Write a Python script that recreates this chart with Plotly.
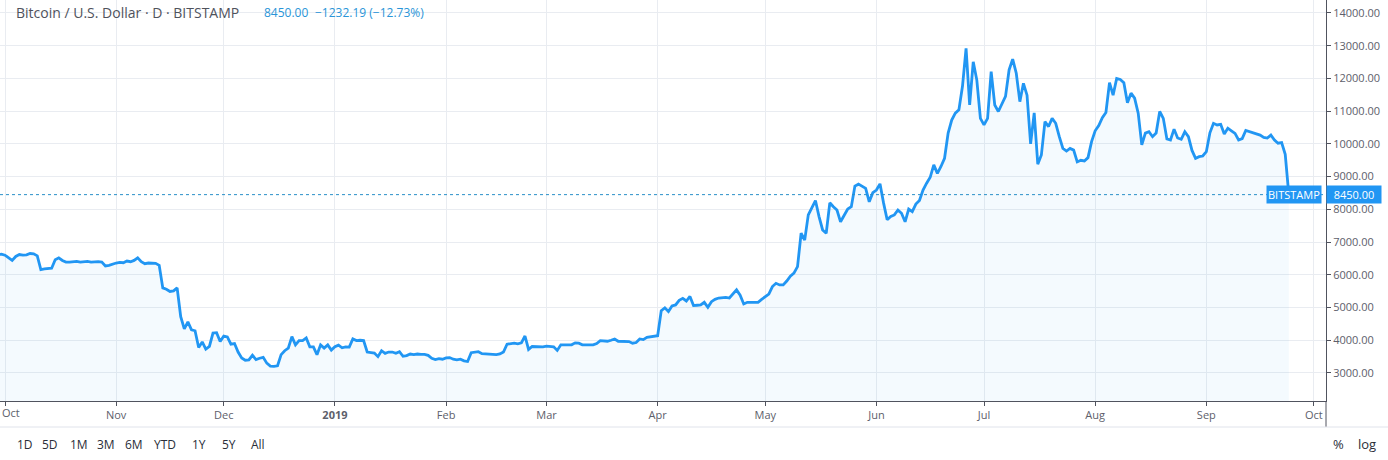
import plotly.graph_objects as go
import pandas as pd

# ---------------- data (daily close, BTC/USD Bitstamp) ----------------
sep2018 = [6620, 6630]  # from 2018-09-29
oct2018 = [6600, 6520, 6440, 6560, 6620, 6600, 6610, 6650, 6640, 6580,
           6160, 6180, 6190, 6200, 6460, 6520, 6440, 6390, 6390, 6400,
           6410, 6390, 6400, 6410, 6390, 6400, 6400, 6390, 6270, 6290, 6330]
nov2018 = [6360, 6380, 6370, 6420, 6400, 6440, 6520, 6400, 6340, 6360,
           6360, 6350, 6290, 5600, 5560, 5490, 5510, 5600, 4720, 4350,
           4560, 4320, 4290, 3780, 3950, 3730, 3810, 4220, 4230, 3960]
dec2018 = [4130, 4100, 3880, 3900, 3640, 3460, 3390, 3400, 3540, 3410,
           3450, 3480, 3300, 3210, 3200, 3220, 3560, 3680, 3760, 4110,
           3860, 3990, 3990, 4070, 3800, 3800, 3560, 3860, 3760, 3860, 3700]
jan2019 = [3800, 3850, 3770, 3800, 3790, 4040, 3990, 4000, 3990, 3640,
           3630, 3610, 3500, 3680, 3600, 3640, 3640, 3600, 3650, 3510,
           3530, 3580, 3560, 3580, 3570, 3570, 3540, 3450, 3410, 3440, 3420]
feb2019 = [3460, 3470, 3420, 3400, 3420, 3370, 3350, 3620, 3630, 3650,
           3590, 3580, 3560, 3550, 3560, 3580, 3640, 3880, 3890, 3910,
           3890, 3920, 4130, 3720, 3810, 3800, 3810, 3800]
mar2019 = [3820, 3820, 3800, 3690, 3860, 3860, 3870, 3860, 3920, 3910,
           3860, 3870, 3860, 3860, 3900, 3990, 3970, 3970, 4000, 4040,
           3970, 3970, 3980, 3960, 3910, 3930, 4040, 4020, 4090, 4100, 4110]
apr2019 = [4140, 4905, 4990, 4880, 5050, 5080, 5220, 5280, 5200, 5340,
           5060, 5070, 5080, 5160, 5010, 5180, 5250, 5290, 5300, 5310,
           5290, 5410, 5540, 5380, 5110, 5160, 5160, 5160, 5160, 5250]
may2019 = [5340, 5410, 5640, 5740, 5690, 5690, 5810, 5960, 6050, 6250,
           7270, 7060, 7830, 8030, 8270, 7780, 7370, 7270, 8200, 8080,
           7980, 7620, 7830, 8010, 8080, 8710, 8770, 8710, 8640, 8230, 8510]
jun2019 = [8590, 8780, 8190, 7680, 7780, 7830, 7980, 7880, 7620, 8010,
           7930, 8160, 8270, 8590, 8800, 8980, 9360, 9100, 9310, 9560,
           10330, 10730, 10940, 11040, 11760, 12920, 11190, 12510, 11950, 10780]
jul2019 = [10580, 10780, 12210, 11190, 10990, 11240, 11450, 12260, 12590, 12160,
           11290, 11850, 11490, 10000, 10950, 9380, 9660, 10680, 10530, 10780,
           10630, 10220, 9860, 9780, 9860, 9810, 9450, 9500, 9480, 9580, 10070]
aug2019 = [10400, 10560, 10800, 10960, 11870, 11490, 12000, 11970, 11870, 11260,
           11550, 11400, 10940, 9970, 10330, 10370, 10220, 10330, 10990, 10780,
           10150, 10120, 10450, 10180, 10140, 10370, 10220, 9800, 9560, 9610, 9630]
sep2019 = [9760, 10340, 10630, 10580, 10600, 10300, 10480, 10400, 10320, 10120,
           10160, 10410, 10370, 10340, 10300, 10270, 10200, 10180, 10270, 10120,
           10020, 10040, 9682.19, 8450]

month_starts = ["2018-09-29", "2018-10-01", "2018-11-01", "2018-12-01", "2019-01-01",
                "2019-02-01", "2019-03-01", "2019-04-01", "2019-05-01", "2019-06-01",
                "2019-07-01", "2019-08-01", "2019-09-01"]
month_series = [sep2018, oct2018, nov2018, dec2018, jan2019, feb2019, mar2019,
                apr2019, may2019, jun2019, jul2019, aug2019, sep2019]

x_tick_vals = ["2018-10-01", "2018-11-01", "2018-12-01", "2019-01-01", "2019-02-01",
               "2019-03-01", "2019-04-01", "2019-05-01", "2019-06-01", "2019-07-01",
               "2019-08-01", "2019-09-01", "2019-10-01"]
x_tick_text = ["Oct", "Nov", "Dec", "<b>2019</b>", "Feb", "Mar", "Apr", "May",
               "Jun", "Jul", "Aug", "Sep", "Oct"]
y_tick_vals = [3000, 4000, 5000, 6000, 7000, 8000, 9000, 10000, 11000, 12000, 13000, 14000]
y_tick_text = [f"{v:.2f}" for v in y_tick_vals]

last_price = 8450.00
change = -1232.19
change_pct = -12.73
range_buttons = ["1D", "5D", "1M", "3M", "6M", "YTD", "1Y", "5Y", "All"]

dates, values = [], []
for start, vals in zip(month_starts, month_series):
    dates += list(pd.date_range(start, periods=len(vals), freq="D"))
    values += vals

# ---------------- figure ----------------
W, H = 1388, 460
PL, PR, PT, PB = 0, 62, 0, 59
pw, ph = W - PL - PR, H - PT - PB

def px_x(p):
    return (p - PL) / pw

def px_y(p):
    return (H - PB - p) / ph

LINE = "#2196f3"
GRID = "#e9ecf1"
AXIS = "#50535e"
TXT = "#5d606b"
FONT = "Open Sans"

fig = go.Figure()
fig.add_trace(go.Scatter(
    x=dates, y=values, mode="lines",
    line=dict(color=LINE, width=2.8),
    fill="tozeroy", fillcolor="rgba(33,150,243,0.05)",
    hoverinfo="skip", showlegend=False,
))

fig.update_layout(
    width=W, height=H,
    margin=dict(l=PL, r=PR, t=PT, b=PB, pad=0),
    paper_bgcolor="white", plot_bgcolor="white",
    font=dict(family=FONT, size=11, color=TXT),
    showlegend=False,
    xaxis=dict(
        type="date",
        range=["2018-09-29 14:32", "2019-10-04 08:53"],
        tickmode="array", tickvals=x_tick_vals, ticktext=x_tick_text,
        showgrid=True, gridcolor=GRID, gridwidth=1,
        showline=True, linecolor=AXIS, linewidth=1,
        ticks="outside", ticklen=4, tickcolor=AXIS,
        tickfont=dict(family=FONT, size=11, color=TXT),
        zeroline=False, fixedrange=True,
    ),
    yaxis=dict(
        side="right",
        range=[2144, 14397],
        tickmode="array", tickvals=y_tick_vals, ticktext=y_tick_text,
        showgrid=True, gridcolor=GRID, gridwidth=1,
        showline=True, linecolor=AXIS, linewidth=1,
        ticks="outside", ticklen=4, tickcolor=AXIS,
        tickfont=dict(family=FONT, size=11, color=TXT),
        zeroline=False, fixedrange=True,
    ),
)

shapes = [
    # last-price dotted line
    dict(type="line", xref="paper", yref="y", x0=0, x1=1, y0=last_price, y1=last_price,
         line=dict(color="#2a8fc9", width=1, dash="dot")),
    # right axis border extended down through time axis
    dict(type="line", xref="paper", yref="paper", x0=1, x1=1, y0=0, y1=px_y(427),
         line=dict(color=AXIS, width=1)),
    # separator above the range buttons
    dict(type="line", xref="paper", yref="paper", x0=0, x1=px_x(W), y0=px_y(427), y1=px_y(427),
         line=dict(color="#e0e3eb", width=1)),
]
fig.update_layout(shapes=shapes)

ann = []
ann.append(dict(xref="paper", yref="paper", x=px_x(14), y=px_y(13), xanchor="left", yanchor="middle",
                text="Bitcoin / U.S. Dollar · D · BITSTAMP", showarrow=False,
                font=dict(family=FONT, size=14, color="#4f525c")))
ann.append(dict(xref="paper", yref="paper", x=px_x(262), y=px_y(13), xanchor="left", yanchor="middle",
                text=f"{last_price:.2f}", showarrow=False,
                font=dict(family=FONT, size=12, color="#2a95d8")))
ann.append(dict(xref="paper", yref="paper", x=px_x(313), y=px_y(13), xanchor="left", yanchor="middle",
                text=f"\u2212{abs(change):.2f} (\u2212{abs(change_pct):.2f}%)", showarrow=False,
                font=dict(family=FONT, size=12, color="#2a95d8")))
# first "Oct" tick label at the very left edge
ann.append(dict(xref="paper", yref="paper", x=0, y=px_y(413), xanchor="left", yanchor="middle",
                text=x_tick_text[0], showarrow=False,
                font=dict(family=FONT, size=11, color=TXT)))
# price labels
ann.append(dict(xref="paper", yref="y", x=px_x(1322), y=last_price, xanchor="right", yanchor="middle",
                text="BITSTAMP", showarrow=False, bgcolor=LINE, borderpad=1,
                font=dict(family=FONT, size=11, color="white")))
ann.append(dict(xref="paper", yref="y", x=1.0, y=last_price, xanchor="left", yanchor="middle",
                text=f"{last_price:.2f}", showarrow=False, bgcolor=LINE, borderpad=1,
                width=52, align="center",
                font=dict(family=FONT, size=11, color="white")))
# range buttons
btn_x = [25, 50, 79, 106, 134, 165, 199, 229, 258]
for lbl, bx in zip(range_buttons, btn_x):
    ann.append(dict(xref="paper", yref="paper", x=px_x(bx), y=px_y(444), xanchor="center", yanchor="middle",
                    text=lbl, showarrow=False, font=dict(family=FONT, size=12, color="#2a2e39")))
ann.append(dict(xref="paper", yref="paper", x=px_x(1338), y=px_y(444), xanchor="center", yanchor="middle",
                text="%", showarrow=False, font=dict(family=FONT, size=13, color="#2a2e39")))
ann.append(dict(xref="paper", yref="paper", x=px_x(1367), y=px_y(444), xanchor="center", yanchor="middle",
                text="log", showarrow=False, font=dict(family=FONT, size=13, color="#2a2e39")))
fig.update_layout(annotations=ann)

fig.write_html("out.html", config={"displayModeBar": False})
